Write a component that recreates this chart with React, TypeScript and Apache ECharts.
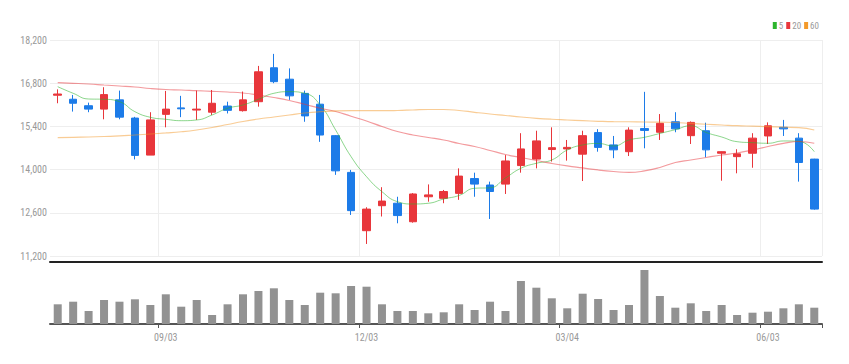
import React, { useEffect, useRef } from "react";
import * as echarts from "echarts";

const dates = [
  "07/16","07/23","07/30","08/06","08/13","08/20","08/27","09/03","09/10","09/17",
  "09/24","10/01","10/08","10/15","10/22","10/29","11/05","11/12","11/19","11/26",
  "12/03","12/10","12/17","12/24","12/31","01/07","01/14","01/21","01/28","02/04",
  "02/11","02/18","02/25","03/04","03/11","03/18","03/25","04/01","04/08","04/15",
  "04/22","04/29","05/06","05/13","05/20","05/27","06/03","06/10","06/17","06/24",
];

const openV = [
  16410,16280,16070,15960,16260,15670,14470,15790,16000,15930,
  15860,16060,15910,16200,17300,16930,16470,16120,15100,13910,
  12020,12830,12910,12310,13120,13070,13230,13710,13500,13530,
  14130,14340,14650,14670,14500,15200,14800,14580,15330,15210,
  15550,15100,15260,14530,14420,14530,15090,15370,15020,14340,
];
const closeV = [
  16450,16150,15960,16430,15700,14460,15610,15960,15970,15960,
  16150,15920,16260,17170,16850,16390,15740,15120,13960,12670,
  12720,12980,12510,13210,13180,13290,13790,13530,13290,14280,
  14670,14930,14710,14720,15100,14720,14640,15280,15270,15500,
  15320,15530,14640,14580,14510,15020,15420,15320,14230,12720,
];
const lowV = [
  16150,15880,15860,15630,15630,14330,14470,15370,15700,15610,
  15770,15820,15880,16040,16800,16260,15550,14900,13830,12530,
  11590,12480,12260,12280,12960,12910,13020,13120,12400,13210,
  13900,14040,14260,14290,13630,14580,14370,14440,14690,14960,
  15210,14830,14400,13640,13880,14060,14830,15090,13610,12700,
];
const highV = [
  16600,16420,16170,16670,16560,15710,15860,16550,16390,16560,
  16580,16200,16530,17360,17750,17280,16560,16420,15120,13990,
  12780,13430,13120,13240,13520,13340,14040,13900,13610,14470,
  15180,15260,15370,14960,15260,15310,15090,15370,16520,15800,
  15860,15560,15520,14590,14660,15180,15530,15610,15180,14350,
];

const ma5 = [
  16687,16473,16288,16279,16201,15877,15695,15631,15585,15608,
  15770,15987,16094,16279,16473,16525,16473,16094,15284,14419,
  13771,13285,12961,12886,12909,13048,13162,13395,13411,13729,
  14043,14205,14312,14636,14798,14847,14766,14960,15047,15171,
  15294,15420,15203,15057,14905,14873,14853,14928,14918,14581,
];
const ma20 = [
  16817,16797,16774,16742,16710,16677,16629,16596,16580,16557,
  16538,16515,16483,16418,16337,16240,16117,15987,15883,15728,
  15576,15397,15235,15122,15041,14960,14847,14749,14620,14490,
  14393,14296,14199,14118,14053,13988,13939,13907,13956,14069,
  14231,14312,14393,14474,14539,14636,14749,14847,14911,14853,
];
const ma60 = [
  15035,15047,15057,15073,15090,15122,15154,15187,15226,15284,
  15365,15462,15559,15640,15705,15770,15835,15877,15900,15909,
  15909,15909,15916,15932,15948,15948,15916,15857,15802,15754,
  15705,15663,15631,15608,15585,15566,15553,15550,15543,15537,
  15527,15495,15469,15446,15423,15407,15391,15375,15359,15284,
];

const volume = [
  1970,2230,1300,2400,2230,2470,1900,2970,1730,2400,
  900,1970,2970,3300,3570,2400,1900,3130,3070,3800,
  3730,1970,1300,1300,1070,1170,1970,1400,2230,1300,
  4300,3630,2570,1570,3030,2500,1400,1900,5400,2800,
  1630,2070,1300,1900,900,1130,1230,1570,1970,1630,
];

const yTicks = { min: 11200, max: 18200, interval: 1400 };
const maNames = ["5", "20", "60"];

const UP = "#E8363B";
const DOWN = "#1C7BE8";
const FONT = "'Liberation Sans Narrow', 'Roboto Condensed', 'Open Sans', sans-serif";

const showIdx = (i: number) => i % 13 === 7;

export default function App() {
  const ref = useRef<HTMLDivElement>(null);
  useEffect(() => {
    if (!ref.current) return;
    const chart = echarts.init(ref.current, undefined, { renderer: "svg" });
    const kdata = dates.map((_, i) => [openV[i], closeV[i], lowV[i], highV[i]]);
    chart.setOption({
      animation: false,
      backgroundColor: "#fff",
      textStyle: { fontFamily: FONT },
      legend: {
        data: [
          { name: maNames[0], itemStyle: { color: "#2DB52D" } },
          { name: maNames[1], itemStyle: { color: "#E8363B" } },
          { name: maNames[2], itemStyle: { color: "#F39A2B" } },
        ],
        right: 30,
        top: 21,
        icon: "rect",
        itemWidth: 4,
        itemHeight: 7,
        itemGap: 3,
        padding: 0,
        textStyle: { color: "#999", fontSize: 9, fontFamily: FONT, padding: [0, 0, 0, -3] },
      },
      grid: [
        { left: 50, right: 27, top: 40, height: 216 },
        { left: 50, right: 27, top: 270, height: 54 },
      ],
      xAxis: [
        {
          type: "category",
          data: dates,
          gridIndex: 0,
          boundaryGap: true,
          offset: 6,
          axisLine: { show: true, lineStyle: { color: "#222", width: 2 } },
          axisTick: { show: false },
          axisLabel: { show: false },
          splitLine: { show: true, interval: (i: number) => showIdx(i), lineStyle: { color: "#eee", width: 1 } },
        },
        {
          type: "category",
          data: dates,
          gridIndex: 1,
          boundaryGap: true,
          axisLine: { show: true, lineStyle: { color: "#555", width: 2 } },
          axisTick: { show: true, interval: (i: number) => showIdx(i), length: 4, lineStyle: { color: "#555" } },
          axisLabel: { show: true, interval: (i: number) => showIdx(i), color: "#999", fontSize: 10, margin: 8, fontFamily: FONT },
          splitLine: { show: false },
        },
      ],
      yAxis: [
        {
          type: "value",
          gridIndex: 0,
          min: yTicks.min,
          max: yTicks.max,
          interval: yTicks.interval,
          axisLine: { show: false },
          axisTick: { show: false },
          axisLabel: {
            color: "#999",
            fontSize: 10,
            margin: 3,
            fontFamily: FONT,
            formatter: (v: number) => v.toLocaleString("en-US"),
          },
          splitLine: { show: true, lineStyle: { color: "#eee" } },
        },
        {
          type: "value",
          gridIndex: 1,
          min: 0,
          max: 5400,
          show: false,
          splitLine: { show: false },
        },
      ],
      series: [
        {
          type: "candlestick",
          name: "k",
          xAxisIndex: 0,
          yAxisIndex: 0,
          data: kdata,
          barWidth: 8,
          itemStyle: { color: UP, color0: DOWN, borderColor: UP, borderColor0: DOWN, borderWidth: 1 },
          z: 3,
        },
        {
          type: "line",
          name: maNames[0],
          data: ma5,
          xAxisIndex: 0,
          yAxisIndex: 0,
          showSymbol: false,
          smooth: true,
          color: "#2DB52D",
          lineStyle: { width: 1, opacity: 0.55 },
          z: 4,
        },
        {
          type: "line",
          name: maNames[1],
          data: ma20,
          xAxisIndex: 0,
          yAxisIndex: 0,
          showSymbol: false,
          smooth: true,
          color: "#E8363B",
          lineStyle: { width: 1.2, opacity: 0.5 },
          z: 4,
        },
        {
          type: "line",
          name: maNames[2],
          data: ma60,
          xAxisIndex: 0,
          yAxisIndex: 0,
          showSymbol: false,
          smooth: true,
          color: "#F39A2B",
          lineStyle: { width: 1.2, opacity: 0.5 },
          z: 4,
        },
        {
          type: "bar",
          name: "vol",
          data: volume,
          xAxisIndex: 1,
          yAxisIndex: 1,
          barWidth: 8,
          itemStyle: { color: "#929292" },
        },
      ],
    });
    return () => chart.dispose();
  }, []);
  return <div ref={ref} style={{ width: 849, height: 364, position: "absolute", left: 0, top: 0 }} />;
}
